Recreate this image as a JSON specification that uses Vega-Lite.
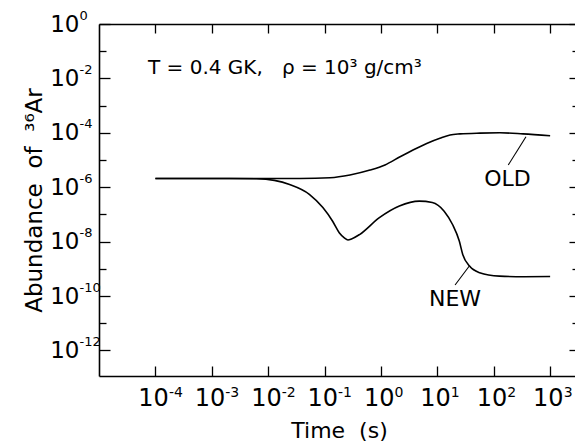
{
  "$schema": "https://vega.github.io/schema/vega-lite/v6.json",
  "width": 476,
  "height": 352,
  "autosize": "none",
  "padding": {"left": 99, "top": 24, "right": 0, "bottom": 67},
  "background": "white",
  "config": {
    "view": {"stroke": null},
    "font": "DejaVu Sans",
    "axis": {
      "grid": false,
      "domainColor": "black",
      "tickColor": "black",
      "labelColor": "black",
      "titleColor": "black",
      "domainWidth": 1.6,
      "tickWidth": 1.3,
      "labelFont": "DejaVu Sans",
      "titleFont": "DejaVu Sans",
      "titleFontWeight": "normal",
      "labelFlush": false,
      "labelOverlap": false,
      "labelBound": false
    }
  },
  "resolve": {
    "scale": {"x": "shared", "y": "shared"},
    "axis": {"x": "independent", "y": "independent"}
  },
  "datasets": {
    "curves": [
      {"curve": "OLD", "t": 0.0001, "abundance": 2.09e-6},
      {"curve": "OLD", "t": 0.001, "abundance": 2.09e-6},
      {"curve": "OLD", "t": 0.006, "abundance": 2.09e-6},
      {"curve": "OLD", "t": 0.0366, "abundance": 2.1e-6},
      {"curve": "OLD", "t": 0.125, "abundance": 2.24e-6},
      {"curve": "OLD", "t": 0.282, "abundance": 2.82e-6},
      {"curve": "OLD", "t": 0.64, "abundance": 4.27e-6},
      {"curve": "OLD", "t": 1.18, "abundance": 6.61e-6},
      {"curve": "OLD", "t": 2.18, "abundance": 1.32e-5},
      {"curve": "OLD", "t": 3.7, "abundance": 2.34e-5},
      {"curve": "OLD", "t": 6.47, "abundance": 4.07e-5},
      {"curve": "OLD", "t": 11.1, "abundance": 6.31e-5},
      {"curve": "OLD", "t": 16.8, "abundance": 8.32e-5},
      {"curve": "OLD", "t": 25.2, "abundance": 9.12e-5},
      {"curve": "OLD", "t": 57.1, "abundance": 9.77e-5},
      {"curve": "OLD", "t": 129, "abundance": 1.0e-4},
      {"curve": "OLD", "t": 330, "abundance": 9.12e-5},
      {"curve": "OLD", "t": 1000, "abundance": 7.76e-5},
      {"curve": "NEW", "t": 0.0001, "abundance": 2.09e-6},
      {"curve": "NEW", "t": 0.001, "abundance": 2.09e-6},
      {"curve": "NEW", "t": 0.00204, "abundance": 2.09e-6},
      {"curve": "NEW", "t": 0.00617, "abundance": 2.05e-6},
      {"curve": "NEW", "t": 0.0129, "abundance": 1.78e-6},
      {"curve": "NEW", "t": 0.024, "abundance": 1.26e-6},
      {"curve": "NEW", "t": 0.0537, "abundance": 5.5e-7},
      {"curve": "NEW", "t": 0.0933, "abundance": 1.78e-7},
      {"curve": "NEW", "t": 0.139, "abundance": 5.6e-8},
      {"curve": "NEW", "t": 0.182, "abundance": 2.14e-8},
      {"curve": "NEW", "t": 0.224, "abundance": 1.38e-8},
      {"curve": "NEW", "t": 0.26, "abundance": 1.15e-8},
      {"curve": "NEW", "t": 0.3, "abundance": 1.25e-8},
      {"curve": "NEW", "t": 0.417, "abundance": 1.82e-8},
      {"curve": "NEW", "t": 0.938, "abundance": 7.6e-8},
      {"curve": "NEW", "t": 2.12, "abundance": 2.04e-7},
      {"curve": "NEW", "t": 4.79, "abundance": 3.09e-7},
      {"curve": "NEW", "t": 8.13, "abundance": 2.75e-7},
      {"curve": "NEW", "t": 13.2, "abundance": 1.32e-7},
      {"curve": "NEW", "t": 18.6, "abundance": 4.27e-8},
      {"curve": "NEW", "t": 24.5, "abundance": 1.05e-8},
      {"curve": "NEW", "t": 28.2, "abundance": 3.39e-9},
      {"curve": "NEW", "t": 37.2, "abundance": 1.26e-9},
      {"curve": "NEW", "t": 56.2, "abundance": 7.2e-10},
      {"curve": "NEW", "t": 126, "abundance": 5.4e-10},
      {"curve": "NEW", "t": 347, "abundance": 5.1e-10},
      {"curve": "NEW", "t": 1000, "abundance": 5.2e-10}
    ]
  },
  "layer": [
    {
      "data": {"name": "curves"},
      "mark": {"type": "line", "interpolate": "monotone", "color": "black", "strokeWidth": 1.6},
      "encoding": {
        "x": {
          "field": "t", "type": "quantitative",
          "scale": {"type": "log", "domain": [0.00001, 2761], "nice": false},
          "axis": {"orient": "bottom", "values": [0.0001, 0.001, 0.01, 0.1, 1, 10, 100, 1000], "tickSize": -10, "labels": false, "domain": true, "ticks": true, "title": null}
        },
        "y": {
          "field": "abundance", "type": "quantitative",
          "scale": {"type": "log", "domain": [1.15e-13, 1], "nice": false},
          "axis": {"orient": "left", "values": [1e-12, 1e-10, 1e-8, 1e-6, 1e-4, 1e-2, 1], "tickSize": -11, "labels": false, "domain": true, "ticks": true, "title": null}
        },
        "detail": {"field": "curve", "type": "nominal"}
      }
    },
    {
      "data": {"values": [{}]},
      "mark": {"type": "text", "text": "T = 0.4 GK,\u00a0\u00a0 ρ = 10³ g/cm³", "align": "left", "baseline": "alphabetic", "fontSize": 20, "font": "DejaVu Sans", "color": "black"},
      "encoding": {
        "x": {
          "datum": 0.000074, "type": "quantitative",
          "scale": {"type": "log", "domain": [0.00001, 2761], "nice": false},
          "axis": {
            "orient": "bottom", "values": [0.0001, 0.001, 0.01, 0.1, 1, 10, 100, 1000],
            "domain": false, "ticks": false, "tickSize": 0,
            "labelExpr": "'10'", "labelAlign": "right", "labelBaseline": "top",
            "labelOffset": 13, "labelPadding": 10, "labelFontSize": 24,
            "title": "Time\u00a0 (s)", "titleFontSize": 22, "titleX": 240, "titleY": 61,
            "titleAlign": "center", "titleBaseline": "alphabetic"
          }
        },
        "y": {
          "datum": 0.0145, "type": "quantitative",
          "scale": {"type": "log", "domain": [1.15e-13, 1], "nice": false},
          "axis": {
            "orient": "left", "values": [1e-12, 1e-10, 1e-8, 1e-6, 1e-4, 1e-2, 1],
            "domain": false, "ticks": false, "tickSize": 0,
            "labelExpr": "'10'", "labelAlign": "right", "labelBaseline": "middle",
            "labelPadding": 20, "labelFontSize": 23,
            "title": "Abundance\u00a0 of\u00a0 ³⁶Ar", "titleFontSize": 23, "titleAngle": 270,
            "titleX": -58, "titleY": 176, "titleAlign": "center", "titleBaseline": "alphabetic"
          }
        }
      }
    },
    {
      "data": {"values": [{}]},
      "mark": {"type": "text", "text": "OLD", "align": "center", "baseline": "middle", "fontSize": 22, "font": "DejaVu Sans", "color": "black"},
      "encoding": {
        "x": {
          "datum": 175, "type": "quantitative",
          "scale": {"type": "log", "domain": [0.00001, 2761], "nice": false},
          "axis": {
            "orient": "bottom", "values": [0.0001, 0.001, 0.01, 0.1, 1, 10, 100, 1000],
            "domain": false, "ticks": false, "tickSize": 0,
            "labelExpr": "'' + round(log(datum.value) / LN10)", "labelAlign": "left", "labelBaseline": "top",
            "labelOffset": 13, "labelPadding": 9, "labelFontSize": 14, "title": null
          }
        },
        "y": {
          "datum": 2.0e-6, "type": "quantitative",
          "scale": {"type": "log", "domain": [1.15e-13, 1], "nice": false},
          "axis": {
            "orient": "left", "values": [1e-12, 1e-10, 1e-8, 1e-6, 1e-4, 1e-2, 1],
            "domain": false, "ticks": false, "tickSize": 0,
            "labelExpr": "'' + round(log(datum.value) / LN10)", "labelAlign": "left", "labelBaseline": "middle",
            "labelOffset": -9, "labelPadding": 20, "labelFontSize": 13, "title": null
          }
        }
      }
    },
    {
      "data": {"values": [{}]},
      "mark": {"type": "text", "text": "NEW", "align": "center", "baseline": "middle", "fontSize": 22, "font": "DejaVu Sans", "color": "black"},
      "encoding": {
        "x": {
          "datum": 20.6, "type": "quantitative",
          "scale": {"type": "log", "domain": [0.00001, 2761], "nice": false},
          "axis": {"orient": "top", "values": [0.0001, 0.001, 0.01, 0.1, 1, 10, 100, 1000], "tickSize": -9, "labels": false, "domain": true, "ticks": true, "title": null}
        },
        "y": {
          "datum": 8.1e-11, "type": "quantitative",
          "scale": {"type": "log", "domain": [1.15e-13, 1], "nice": false},
          "axis": {"orient": "left", "values": [1e-11, 1e-9, 1e-7, 1e-5, 1e-3, 1e-1], "tickSize": -7, "labels": false, "domain": false, "ticks": true, "title": null}
        }
      }
    },
    {
      "data": {"values": [{}]},
      "mark": {"type": "rule", "color": "black", "strokeWidth": 1.1},
      "encoding": {
        "x": {
          "datum": 373, "type": "quantitative",
          "scale": {"type": "log", "domain": [0.00001, 2761], "nice": false},
          "axis": null
        },
        "x2": {"datum": 181},
        "y": {
          "datum": 7.19e-5, "type": "quantitative",
          "scale": {"type": "log", "domain": [1.15e-13, 1], "nice": false},
          "axis": {"orient": "right", "values": [1e-12, 1e-10, 1e-8, 1e-6, 1e-4, 1e-2, 1], "tickSize": -6, "labels": false, "domain": false, "ticks": true, "title": null}
        },
        "y2": {"datum": 6.55e-6}
      }
    },
    {
      "data": {"values": [{}]},
      "mark": {"type": "rule", "color": "black", "strokeWidth": 1.1},
      "encoding": {
        "x": {
          "datum": 36.9, "type": "quantitative",
          "scale": {"type": "log", "domain": [0.00001, 2761], "nice": false},
          "axis": null
        },
        "x2": {"datum": 20.6},
        "y": {
          "datum": 1.27e-9, "type": "quantitative",
          "scale": {"type": "log", "domain": [1.15e-13, 1], "nice": false},
          "axis": {"orient": "right", "values": [1e-11, 1e-9, 1e-7, 1e-5, 1e-3, 1e-1], "tickSize": -3, "labels": false, "domain": false, "ticks": true, "title": null}
        },
        "y2": {"datum": 2.54e-10}
      }
    }
  ]
}
